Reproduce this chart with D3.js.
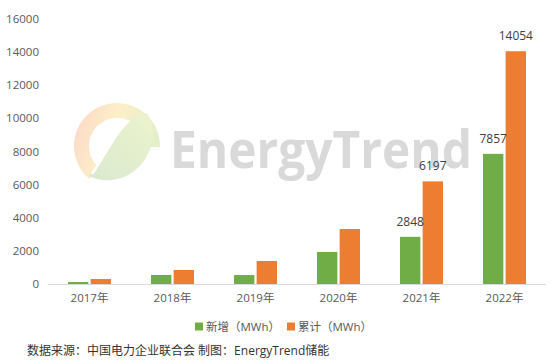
<!DOCTYPE html>
<html><head><meta charset="utf-8">
<script src="https://cdn.jsdelivr.net/npm/d3@7/dist/d3.min.js"></script>
<style>
html,body{margin:0;padding:0;background:#fff;}
text{font-family:"Open Sans","Noto Sans CJK SC",sans-serif;}
</style></head>
<body><svg id="c" width="559" height="364"></svg>
<script>
const categories = ["2017年","2018年","2019年","2020年","2021年","2022年"];
const seriesNames = ["新增（MWh）","累计（MWh）"];
const newAdded = [120, 545, 540, 1935, 2848, 7857];
const cumulative = [300, 845, 1390, 3320, 6197, 14054];
const labeledNew = [false,false,false,false,true,true];
const labeledCum = [false,false,false,false,true,true];
const yTicks = [0,2000,4000,6000,8000,10000,12000,14000,16000];
const colors = ["#70ad47","#ed7d31"];
const footer = "数据来源：中国电力企业联合会 制图：EnergyTrend储能";

const svg = d3.select("#c");
const W = 559, H = 364;
svg.append("rect").attr("width",W).attr("height",H).attr("fill","#fff");

// watermark
const defs = svg.append("defs");
const g1 = defs.append("linearGradient").attr("id","ring").attr("x1","0").attr("y1","0").attr("x2","1").attr("y2","0.3");
g1.append("stop").attr("offset","0").attr("stop-color","#fbd6c6");
g1.append("stop").attr("offset","0.5").attr("stop-color","#fdefc9");
g1.append("stop").attr("offset","1").attr("stop-color","#e3efc8");
const g2 = defs.append("linearGradient").attr("id","leaf").attr("x1","0").attr("y1","1").attr("x2","1").attr("y2","0");
g2.append("stop").attr("offset","0").attr("stop-color","#d9e9cf");
g2.append("stop").attr("offset","1").attr("stop-color","#ecf3cd");
const wm = svg.append("g");
const cx = 117, cy = 146, R = 36;
const arc = d3.arc().innerRadius(R-8).outerRadius(R+7).startAngle(-2.45).endAngle(1.6);
wm.append("path").attr("d",arc()).attr("transform",`translate(${cx},${cy})`).attr("fill","url(#ring)");
wm.append("path").attr("d",`M${cx-28},${cy+30} C${cx-5},${cy+5} ${cx+5},${cy-30} ${cx+30},${cy-33} C${cx+45},${cy-10} ${cx+30},${cy+30} ${cx-5},${cy+34} C${cx-15},${cy+35} ${cx-22},${cy+33} ${cx-28},${cy+30} Z`)
  .attr("fill","url(#leaf)");
wm.append("path").attr("d",`M${cx-25},${cy+28} C${cx-12},${cy+10} ${cx-4},${cy-10} ${cx+8},${cy-22}`).attr("stroke","#fff").attr("stroke-width",2.5).attr("fill","none");
wm.append("text").attr("x",170).attr("y",168).attr("font-size",52).attr("font-weight",700)
  .attr("fill","#d9d9d9").attr("textLength",302).attr("lengthAdjust","spacingAndGlyphs")
  .style("font-family","'Open Sans',sans-serif").text("EnergyTrend");

const x = d3.scaleBand().domain(categories).range([48,546]).padding(0);
const x1 = d3.scaleBand().domain(seriesNames).range([0,43]).paddingInner(0.1);
const y = d3.scaleLinear().domain([0,16000]).range([284,19]);

// y tick labels
svg.append("g").selectAll("text").data(yTicks).join("text")
  .attr("x",39).attr("y",d=>y(d)).attr("dy","0.35em").attr("text-anchor","end")
  .attr("font-size",11.5).attr("fill","#595959").text(d=>d);

const data = categories.map((c,i)=>({c, vals:[newAdded[i],cumulative[i]], lab:[labeledNew[i],labeledCum[i]]}));
const grp = svg.append("g").selectAll("g").data(data).join("g")
  .attr("transform",d=>`translate(${x(d.c)+x.bandwidth()/2-21.5},0)`);
grp.selectAll("rect").data(d=>d.vals.map((v,j)=>({v,j}))).join("rect")
  .attr("x",d=>x1(seriesNames[d.j])).attr("width",x1.bandwidth())
  .attr("y",d=>y(d.v)).attr("height",d=>y(0)-y(d.v)).attr("fill",d=>colors[d.j]);
grp.selectAll("text").data(d=>d.vals.map((v,j)=>({v,j,l:d.lab[j]})).filter(e=>e.l)).join("text")
  .attr("x",d=>x1(seriesNames[d.j])+x1.bandwidth()/2).attr("y",d=>y(d.v)-11)
  .attr("text-anchor","middle").attr("font-size",12).attr("fill","#404040").text(d=>d.v);

// x axis line
svg.append("line").attr("x1",48).attr("x2",546).attr("y1",284.5).attr("y2",284.5).attr("stroke","#d9d9d9").attr("stroke-width",1);
svg.append("g").selectAll("text").data(categories).join("text")
  .attr("x",d=>x(d)+x.bandwidth()/2).attr("y",298).attr("dy","0.35em").attr("text-anchor","middle")
  .attr("font-size",11.5).attr("fill","#595959").text(d=>d);

// legend
const leg = svg.append("g");
const legX = [195, 287];
seriesNames.forEach((n,i)=>{
  leg.append("rect").attr("x",legX[i]).attr("y",322.5).attr("width",8).attr("height",8).attr("fill",colors[i]);
  leg.append("text").attr("x",legX[i]+11).attr("y",327).attr("dy","0.35em").attr("font-size",11.5).attr("fill","#595959").text(n);
});

// footer
svg.append("text").attr("x",27).attr("y",351).attr("dy","0.35em").attr("font-size",12).attr("fill","#333").text(footer);
</script></body></html>
